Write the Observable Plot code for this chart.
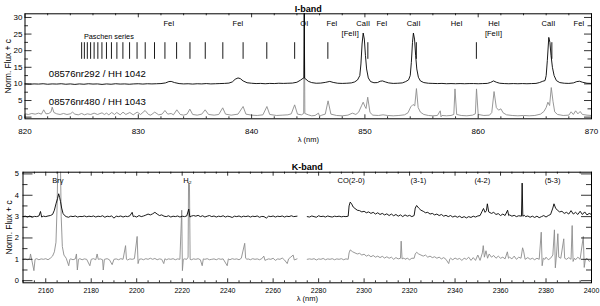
<!DOCTYPE html>
<html><head><meta charset="utf-8">
<script src="https://cdn.jsdelivr.net/npm/d3@7"></script>
<script src="https://cdn.jsdelivr.net/npm/@observablehq/plot@0.6"></script>
<style>
body{margin:0;padding:0;background:#fff;}
#chart{width:600px;height:306px;overflow:hidden;}
#chart svg{display:block;}
</style></head><body><div id="chart"></div>
<script>
// ---------------- I-band data (wavelength nm, normalised flux + c) ----------------
const iFluxHH1042 = [
[820.0,10.0],[820.4,9.9],[820.8,10.0],[821.2,9.95],[821.6,10.05],[822.0,9.9],[822.4,10.0],[822.8,9.95],[823.2,10.05],[823.6,9.9],[824.0,10.0],[824.4,9.85],[824.8,10.0],[825.2,9.9],[825.6,10.05],[826.0,9.95],[826.4,10.0],[826.8,9.85],[827.2,10.0],[827.6,9.9],[828.0,10.05],[828.4,9.95],[828.8,10.0],[829.2,9.9],[829.6,10.0],[830.0,10.05],[830.4,9.95],[830.8,10.05],[831.2,10.0],[831.6,10.05],[832.0,10.1],[832.4,10.3],[832.7,10.7],[832.9,10.75],[833.2,10.4],[833.6,10.1],[834.0,10.0],[834.4,10.05],[834.8,9.95],[835.2,10.05],[835.6,10.0],[836.0,10.1],[836.4,10.0],[836.8,10.05],[837.2,10.1],[837.6,10.15],[838.0,10.25],[838.3,10.6],[838.55,11.4],[838.8,11.8],[839.0,11.6],[839.25,10.9],[839.6,10.35],[840.0,10.2],[840.4,10.1],[840.8,10.15],[841.2,10.05],[841.6,10.15],[842.0,10.1],[842.4,10.2],[842.8,10.15],[843.2,10.2],[843.6,10.25],[844.0,10.5],[844.3,11.1],[844.55,11.7],[844.62,11.8],[844.65,31.8],[844.68,11.7],[844.8,11.4],[845.0,10.8],[845.3,10.4],[845.7,10.2],[846.1,10.25],[846.5,10.45],[846.9,10.75],[847.2,10.45],[847.6,10.2],[848.0,10.15],[848.4,10.2],[848.8,10.3],[849.1,10.6],[849.35,11.2],[849.55,12.5],[849.65,16],[849.75,22],[849.85,25.3],[849.95,23.5],[850.05,18.5],[850.15,14.5],[850.3,11.8],[850.5,10.7],[850.8,10.35],[851.1,10.4],[851.35,10.8],[851.55,10.9],[851.8,10.6],[852.1,10.3],[852.5,10.15],[852.9,10.2],[853.3,10.3],[853.6,10.7],[853.85,11.2],[854.0,12.5],[854.1,16.5],[854.2,22.5],[854.28,25.3],[854.38,23.5],[854.48,18.5],[854.58,14.5],[854.72,12],[854.9,10.9],[855.2,10.4],[855.6,10.2],[856.0,10.15],[856.4,10.1],[856.8,10.15],[857.2,10.05],[857.6,10.1],[858.0,10.05],[858.4,10.1],[858.8,10.05],[859.2,10.1],[859.6,10.1],[860.0,10.05],[860.4,10.1],[860.8,10.15],[861.1,10.45],[861.35,10.9],[861.6,10.5],[861.9,10.2],[862.3,10.1],[862.7,10.05],[863.1,10.1],[863.5,10.05],[863.9,10.1],[864.3,10.05],[864.7,10.1],[865.1,10.15],[865.4,10.4],[865.7,10.8],[865.9,11.0],[866.0,12.5],[866.1,17],[866.23,24.0],[866.33,22.5],[866.43,18.5],[866.55,15],[866.7,12.5],[866.9,11],[867.2,10.4],[867.6,10.2],[868.0,10.15],[868.4,10.3],[868.7,10.7],[868.95,10.8],[869.2,10.5],[869.6,10.2],[870.0,10.15]
];
const iFluxHH1043 = [
[820.0,1.0],[820.3,0.8],[820.6,1.1],[820.9,0.9],[821.2,1.2],[821.45,0.9],[821.65,2.2],[821.85,1.0],[822.1,1.1],[822.3,1.6],[822.4,3.0],[822.55,1.4],[822.8,1.0],[823.1,0.8],[823.4,1.1],[823.7,0.8],[824.0,1.0],[824.2,1.5],[824.4,0.9],[824.7,0.7],[825.0,1.1],[825.25,0.7],[825.5,1.0],[825.8,0.8],[826.1,1.2],[826.4,0.8],[826.8,1.3],[827.0,0.8],[827.2,1.2],[827.4,0.7],[827.65,1.4],[827.9,0.8],[828.1,1.4],[828.4,0.7],[828.65,1.5],[828.9,0.8],[829.25,1.4],[829.55,0.7],[829.9,1.5],[830.2,0.8],[830.6,2.0],[830.9,0.8],[831.1,0.6],[831.45,1.5],[831.8,0.7],[832.1,0.9],[832.35,2.0],[832.6,0.9],[832.9,1.1],[833.1,0.7],[833.4,2.2],[833.7,0.8],[834.0,0.6],[834.3,0.9],[834.55,2.4],[834.8,0.8],[835.2,0.6],[835.6,0.9],[835.9,2.2],[836.2,0.8],[836.7,0.6],[837.1,0.8],[837.45,2.8],[837.7,0.9],[838.2,0.6],[838.8,0.9],[839.25,3.2],[839.5,0.9],[840.0,0.6],[840.5,0.5],[841.0,0.7],[841.35,3.2],[841.6,0.8],[842.2,0.5],[842.7,0.6],[843.2,0.7],[843.5,1.0],[843.8,3.7],[844.05,0.9],[844.4,0.7],[844.6,1.1],[844.65,31.8],[844.7,1.1],[845.0,0.7],[845.3,0.4],[845.6,0.5],[845.9,1.2],[846.0,0.3],[846.2,0.6],[846.5,0.9],[846.75,4.9],[847.0,0.9],[847.5,0.5],[848.0,0.4],[848.5,0.6],[848.9,1.2],[849.2,0.8],[849.45,1.5],[849.7,3.4],[849.85,4.5],[850.0,3.2],[850.1,2.6],[850.25,6.0],[850.45,1.4],[850.7,0.6],[851.2,0.5],[851.6,0.7],[852.0,0.5],[852.5,0.4],[853.0,0.5],[853.5,0.7],[853.8,1.3],[854.05,3.1],[854.25,3.8],[854.4,3.4],[854.55,8.6],[854.7,2.9],[854.9,1.5],[855.2,0.8],[855.6,0.5],[856.0,0.4],[856.4,0.5],[856.65,1.9],[856.72,0.1],[856.8,0.5],[857.2,0.4],[857.6,0.5],[857.85,0.8],[857.95,8.5],[858.1,0.8],[858.5,0.5],[859.0,0.4],[859.5,0.6],[859.75,1.0],[859.85,8.5],[860.0,0.8],[860.5,0.5],[861.0,0.6],[861.2,1.4],[861.4,7.7],[861.6,2.9],[861.8,2.1],[862.0,2.5],[862.2,1.3],[862.5,0.7],[863.0,0.5],[863.5,0.4],[864.0,0.5],[864.5,0.4],[865.0,0.5],[865.5,0.9],[865.8,1.7],[866.0,2.9],[866.15,4.5],[866.3,3.5],[866.45,8.9],[866.6,4.8],[866.75,1.6],[867.0,0.8],[867.5,0.5],[868.0,0.6],[868.2,1.6],[868.4,0.8],[868.6,1.9],[868.8,1.0],[869.0,1.7],[869.2,0.8],[869.6,0.6],[870.0,0.5]
];
const paschenSeries = [866.50,859.84,854.54,850.26,846.73,843.80,841.34,839.25,837.46,835.91,834.56,833.38,832.35,831.43,830.61,829.89,829.23,828.64,828.11,827.63,827.19,826.79,826.43,826.10,825.79,825.50,825.24,825.00];
const paschenTickTop = 22.4, paschenTickBottom = 17.4;
const iLineNames = ["FeI","FeI","OI","FeI","CaII","FeI","CaII","HeI","HeI","CaII","FeI"];
const iLineWaves = [832.7,838.8,844.65,847.1,849.85,851.5,854.3,858.1,861.4,866.2,868.9];
const iLineLevel = 28.3;
const iLine2Names = ["[FeII]","[FeII]"];
const iLine2Waves = [848.7,861.35];
const iLine2Level = 25.0;
const iSeriesNames = ["08576nr292 / HH 1042","08576nr480 / HH 1043"];
const iSeriesLevels = [12.9,4.45];
const iSeriesStart = 822.1;
const iTicksX = [820,830,840,850,860,870];
const iTicksY = [0,5,10,15,20,25,30];

// ---------------- K-band data ----------------
const kFluxHH1042a = [
[2150,3.0],[2151,3.02],[2152,2.98],[2153,3.03],[2154,2.97],[2155,3.01],[2156,3.0],[2157,3.03],[2157.7,3.24],[2158.2,2.98],[2159,3.02],[2160,3.0],[2161,3.03],[2162,3.05],[2163,3.1],[2163.8,3.3],[2164.5,3.6],[2165.2,3.85],[2165.7,4.07],[2166.1,3.9],[2166.5,3.7],[2167.0,3.4],[2167.6,3.15],[2168.3,3.05],[2169,3.0],[2170,2.97],[2171,3.02],[2172,3.0],[2173,3.03],[2174,2.98],[2175,3.01],[2176,3.0],[2177,3.03],[2178,2.99],[2179,3.02],[2180,3.0],[2181,3.03],[2182,2.98],[2183,3.02],[2184,3.0],[2185,3.04],[2186,2.97],[2187,3.02],[2188,3.0],[2189,3.03],[2190,2.93],[2191,3.02],[2192,3.0],[2193,3.03],[2194,2.98],[2195,3.02],[2196,3.0],[2197,3.04],[2198,3.2],[2198.5,3.0],[2199,3.02],[2200,2.98],[2201,3.05],[2202,3.0],[2203,3.03],[2204,3.07],[2205,3.12],[2206,3.08],[2207,3.13],[2208,3.2],[2209,3.12],[2210,3.05],[2211,3.08],[2212,3.02],[2213,3.0],[2214,3.04],[2215,2.98],[2216,3.02],[2217,3.0],[2218,3.03],[2219,2.98],[2220,3.02],[2221,3.0],[2222,3.03],[2222.9,3.35],[2223.4,2.98],[2224,3.02],[2225,3.05],[2226,3.02],[2227,3.06],[2228,3.0],[2229,3.04],[2230,2.98],[2231,3.02],[2232,3.05],[2233,3.0],[2234,3.03],[2235,2.98],[2236,3.02],[2237,3.0],[2238,3.04],[2239,2.98],[2240,3.02],[2241,3.0],[2242,2.96],[2243,3.02],[2244,3.0],[2245,3.03],[2246,2.98],[2247,3.02],[2248,3.0],[2249,3.03],[2250,2.98],[2251,3.02],[2252,3.0],[2253,3.03],[2254,2.97],[2255,3.01],[2256,3.0],[2257,2.93],[2258,3.02],[2259,3.0],[2260,3.03],[2261,2.98],[2262,3.02],[2263,3.0],[2264,3.03],[2265,2.98],[2266,3.02],[2267,3.0],[2268,3.04],[2269,3.0],[2270.5,3.02]
];
const kFluxHH1042b = [
[2275,3.0],[2276,2.98],[2277,3.03],[2278,3.0],[2279,2.97],[2280,3.04],[2281,3.0],[2282,3.02],[2283,2.98],[2284,3.03],[2285,3.0],[2286,2.98],[2287,3.02],[2288,3.0],[2289,3.02],[2290,2.99],[2291,3.01],[2292,3.0],[2293,3.02],[2293.4,3.5],[2293.9,3.68],[2294.5,3.6],[2295.2,3.45],[2296,3.38],[2297,3.3],[2298,3.28],[2299,3.22],[2300,3.25],[2301,3.18],[2302,3.22],[2303,3.15],[2304,3.2],[2305,3.12],[2306,3.18],[2307,3.1],[2308,3.15],[2309,3.08],[2310,3.13],[2311,3.05],[2312,3.12],[2313,3.04],[2314,3.1],[2315,3.02],[2316,3.08],[2317,3.0],[2318,3.08],[2319,3.02],[2320,3.06],[2321,3.0],[2322,3.05],[2322.5,3.4],[2323.1,3.52],[2324,3.4],[2325,3.3],[2326,3.25],[2327,3.18],[2328,3.2],[2329,3.12],[2330,3.15],[2331,3.08],[2332,3.12],[2333,3.05],[2334,3.1],[2335,3.02],[2336,3.06],[2337,3.0],[2338,3.05],[2339,2.98],[2340,3.03],[2341,2.97],[2342,3.02],[2343,2.95],[2344,3.0],[2345,2.94],[2346,3.0],[2347,2.96],[2348,3.02],[2349,2.98],[2350,3.03],[2351,3.05],[2351.9,3.25],[2352.5,3.38],[2353.2,3.2],[2353.8,3.28],[2354.2,3.6],[2354.8,3.22],[2356,3.15],[2357,3.2],[2358,3.1],[2359,3.14],[2360,3.05],[2361,3.12],[2362,3.05],[2363.1,3.3],[2363.6,3.05],[2364,3.08],[2365,3.02],[2366,3.06],[2367,3.0],[2368,3.04],[2369.2,3.02],[2369.5,4.57],[2369.8,3.02],[2370.5,3.06],[2371,3.0],[2372,3.03],[2373,2.97],[2374,3.02],[2375,2.96],[2376,3.02],[2377,2.95],[2378,3.0],[2379,3.05],[2380,2.98],[2381,3.05],[2382,3.1],[2383,3.4],[2383.5,3.6],[2384.2,3.4],[2385,3.3],[2386,3.22],[2387,3.25],[2388,3.15],[2389,3.2],[2390,3.12],[2391,3.28],[2392,3.12],[2393,3.2],[2394,3.1],[2395,3.25],[2396,3.1],[2397,3.22],[2398,3.08],[2399,3.15],[2400,3.1]
];
const kFluxHH1043a = [
[2150,1.0],[2151,1.02],[2152,0.98],[2153,1.03],[2153.3,1.25],[2153.8,1.0],[2154.8,0.47],[2155.3,1.0],[2156,1.03],[2157,0.98],[2158,1.02],[2159,1.0],[2160,1.03],[2161,0.98],[2162,1.05],[2163,1.15],[2163.8,1.35],[2164.5,1.8],[2165.0,3.5],[2165.4,6.0],[2166.4,6.0],[2166.8,3.0],[2167.3,1.6],[2168,1.2],[2169,1.05],[2170.1,0.7],[2170.6,1.0],[2171,1.02],[2172,0.98],[2173,1.02],[2173.5,1.25],[2173.9,0.5],[2174.4,1.0],[2175,1.03],[2176,0.98],[2177,1.02],[2178,1.0],[2179.4,0.7],[2180,1.0],[2181,1.03],[2182,0.98],[2182.6,1.25],[2183.1,1.0],[2184,1.02],[2185,0.98],[2185.3,0.5],[2185.8,1.0],[2187,1.03],[2188,0.98],[2189.2,0.75],[2190,1.0],[2191,1.02],[2192,0.98],[2193,1.03],[2194,1.0],[2195.1,1.64],[2195.5,1.0],[2196,0.97],[2197,1.02],[2198,1.0],[2199,1.03],[2200.2,2.07],[2200.6,0.8],[2201.1,1.0],[2202,1.02],[2203,0.98],[2204,1.03],[2205,1.0],[2206,1.05],[2207,1.0],[2208,1.04],[2209,0.98],[2210,1.02],[2211,1.0],[2211.9,0.8],[2212.4,1.03],[2213,0.98],[2214,1.02],[2215,1.0],[2216,1.03],[2217,0.98],[2218,1.02],[2219,1.0],[2219.8,3.3],[2220.1,0.47],[2220.5,1.0],[2221,1.02],[2222,1.0],[2222.6,1.1],[2222.8,4.6],[2223.2,4.5],[2223.5,1.0],[2224,0.98],[2225,1.02],[2226,1.0],[2227,1.03],[2228,0.98],[2228.8,0.7],[2229.3,1.02],[2230,1.0],[2231,1.03],[2232,0.98],[2233,1.0],[2234,1.02],[2235,0.98],[2236,1.03],[2237,1.0],[2238,1.02],[2239.8,0.7],[2240.3,1.02],[2241,0.98],[2242,1.03],[2243,1.0],[2244,1.02],[2245,0.98],[2246,1.05],[2247.5,1.75],[2247.9,1.05],[2248.5,1.0],[2249,1.02],[2250,0.98],[2251,1.03],[2252,1.0],[2253,1.02],[2254,0.98],[2255,1.03],[2255.9,1.15],[2256.4,0.95],[2257,0.98],[2258,1.02],[2259,1.0],[2260,1.05],[2261,0.95],[2262,1.02],[2263,1.0],[2264,1.06],[2265,0.97],[2266.2,0.8],[2266.8,1.02],[2267.5,1.08],[2268.8,1.2],[2269.3,0.97],[2270.5,1.02]
];
const kFluxHH1043b = [
[2275,1.0],[2276,1.02],[2277,1.0],[2278,1.03],[2279,0.97],[2280,1.02],[2281,1.0],[2282,1.04],[2283,0.98],[2284,1.02],[2285,1.0],[2286,1.03],[2287,0.98],[2288,1.02],[2289,1.0],[2290,1.03],[2291,0.98],[2292,1.02],[2293,1.0],[2293.4,1.3],[2293.9,1.44],[2295,1.35],[2296,1.3],[2297,1.25],[2298,1.28],[2299,1.2],[2300,1.24],[2301,1.15],[2302,1.2],[2303,1.12],[2304,1.18],[2305,1.1],[2306,1.15],[2307,1.08],[2308,1.14],[2309,1.06],[2310,1.12],[2311,1.05],[2312,1.1],[2313,1.0],[2314,1.08],[2315,1.02],[2316,1.05],[2316.3,1.85],[2316.7,1.02],[2317.5,1.06],[2318,1.0],[2319,1.05],[2320,0.98],[2321,1.05],[2322,1.05],[2322.5,1.25],[2323.1,1.33],[2324,1.25],[2325,1.2],[2326,1.15],[2327,1.2],[2328,1.1],[2329,1.15],[2330,1.08],[2331,1.12],[2332,1.05],[2333,1.1],[2334,1.02],[2335,1.08],[2336,1.0],[2337.2,0.8],[2337.7,1.02],[2338,1.05],[2339,0.98],[2340,1.06],[2341,1.0],[2342,1.04],[2343,0.95],[2344,1.05],[2345,1.0],[2346,1.1],[2347,0.95],[2348,1.08],[2349,0.95],[2350,1.2],[2351,0.95],[2352,1.3],[2352.4,1.64],[2352.9,1.1],[2353.6,1.4],[2354.3,1.05],[2355,1.25],[2356,1.1],[2357,1.18],[2358,1.05],[2359,1.15],[2360,1.05],[2361,1.1],[2362,1.02],[2363,1.35],[2363.5,1.05],[2364,1.1],[2365,1.02],[2366,1.15],[2367,1.0],[2368,1.1],[2369,1.05],[2369.7,1.54],[2370.2,1.35],[2370.8,1.0],[2372,1.08],[2373,1.0],[2374,1.05],[2375,0.98],[2376,1.05],[2377,1.0],[2377.9,2.27],[2378.3,0.7],[2378.8,1.05],[2379.5,1.0],[2380,1.1],[2381,0.98],[2382,1.05],[2383,1.2],[2383.7,2.38],[2384.1,0.6],[2384.6,1.2],[2385.2,2.2],[2385.6,1.1],[2386.5,1.05],[2387.8,1.96],[2388.2,1.05],[2389,1.0],[2390,1.08],[2391,1.0],[2391.5,2.58],[2391.9,0.9],[2392.5,1.05],[2393,0.98],[2394,1.1],[2395,1.0],[2396.4,2.07],[2396.8,0.62],[2397.3,1.0],[2398,1.05],[2399,0.9],[2400,1.0]
];
const kLineNames = ["Brγ","H₂","CO(2-0)","(3-1)","(4-2)","(5-3)"];
const kLineWaves = [2165.3,2222.3,2294.3,2323.9,2352.0,2382.9];
const kLineLevel = 4.68;
const kTicksX = [2160,2180,2200,2220,2240,2260,2280,2300,2320,2340,2360,2380,2400];
const kTicksY = [0,1,2,3,4,5];

// ---------------- drawing ----------------
const FONT = "'Liberation Sans', Arial, Helvetica, sans-serif";
const GREY = "#8c8c8c";
const fmt = d => String(d);

function boxTicks(o) {
  const fw = o.width - o.ml - o.mr, fh = o.height - o.mt - o.mb;
  const m = [];
  const tx = (arr, len) => {
    m.push(Plot.ruleX(arr, {x: d => d, insetTop: fh - len, stroke: "#000", strokeWidth: 0.8}));
    m.push(Plot.ruleX(arr, {x: d => d, insetBottom: fh - len, stroke: "#000", strokeWidth: 0.8}));
  };
  const ty = (arr, len) => {
    m.push(Plot.ruleY(arr, {y: d => d, insetRight: fw - len, stroke: "#000", strokeWidth: 0.8}));
    m.push(Plot.ruleY(arr, {y: d => d, insetLeft: fw - len, stroke: "#000", strokeWidth: 0.8}));
  };
  tx(o.xMajor, o.xMajLen); tx(o.xMinor, o.xMajLen / 2);
  ty(o.yMajor, o.yMajLen); ty(o.yMinor, o.yMajLen / 2);
  return m;
}

// I-band panel
const iDim = {width: 600, height: 150, mt: 13.3, mb: 31.7, ml: 24.5, mr: 9};
const iMinorX = d3.range(820, 870.01, 2).filter(v => v % 10 !== 0);
const iMinorY = d3.range(2.5, 30, 5);
const iPlot = Plot.plot({
  width: iDim.width, height: iDim.height,
  marginTop: iDim.mt, marginBottom: iDim.mb, marginLeft: iDim.ml, marginRight: iDim.mr,
  style: {fontFamily: FONT, background: "white", color: "black", overflow: "visible"},
  x: {domain: [820, 870]},
  y: {domain: [-0.5, 31.1]},
  marks: [
    Plot.line(iFluxHH1043, {stroke: GREY, strokeWidth: 0.9, clip: true}),
    Plot.line(iFluxHH1042, {stroke: "#000", strokeWidth: 0.9, clip: true}),
    Plot.ruleX(paschenSeries, {x: d => d, y1: paschenTickBottom, y2: paschenTickTop, stroke: "#000", strokeWidth: 0.9}),
    Plot.text(["Paschen series"], {x: [827.4], y: [24.3], text: d => d, fontSize: 7.3}),
    Plot.text(iLineNames, {x: iLineWaves, y: iLineNames.map(() => iLineLevel), text: d => d, fontSize: 7.5}),
    Plot.text(iLine2Names, {x: iLine2Waves, y: iLine2Names.map(() => iLine2Level), text: d => d, fontSize: 7.5}),
    Plot.text(iSeriesNames, {x: iSeriesNames.map(() => iSeriesStart), y: iSeriesLevels, text: d => d, textAnchor: "start", fontSize: 9.6}),
    Plot.frame({stroke: "#000", strokeWidth: 1}),
    ...boxTicks({...iDim, xMajor: iTicksX, xMinor: iMinorX, yMajor: iTicksY, yMinor: iMinorY, xMajLen: 4, yMajLen: 7}),
    Plot.axisX({ticks: iTicksX, tickFormat: fmt, tickSize: 0, tickPadding: 9.5, label: null, fontSize: 8}),
    Plot.axisY({ticks: iTicksY, tickFormat: fmt, tickSize: 0, tickPadding: 2.5, label: null, fontSize: 8}),
    Plot.text(["I-band"], {frameAnchor: "top", dy: -8.3, fontWeight: "bold", fontSize: 9}),
    Plot.text(["λ (nm)"], {frameAnchor: "bottom", dy: 22.7, fontSize: 7.5}),
    Plot.text(["Norm. Flux + c"], {frameAnchor: "left", textAnchor: "middle", dx: -16.5, rotate: -90, fontSize: 8.3})
  ]
});

// K-band panel
const kDim = {width: 600, height: 156, mt: 21.7, mb: 23.7, ml: 22.5, mr: 9};
const kMinorX = d3.range(2150, 2400.01, 5).filter(v => v % 20 !== 0);
const kMinorY = d3.range(0.5, 5, 1);
const kPlot = Plot.plot({
  width: kDim.width, height: kDim.height,
  marginTop: kDim.mt, marginBottom: kDim.mb, marginLeft: kDim.ml, marginRight: kDim.mr,
  style: {fontFamily: FONT, background: "white", color: "black", overflow: "visible"},
  x: {domain: [2150, 2400]},
  y: {domain: [-0.1, 5.08]},
  marks: [
    Plot.line(kFluxHH1043a, {stroke: GREY, strokeWidth: 0.9, clip: true}),
    Plot.line(kFluxHH1043b, {stroke: GREY, strokeWidth: 0.9, clip: true}),
    Plot.line(kFluxHH1042a, {stroke: "#000", strokeWidth: 0.9, clip: true}),
    Plot.line(kFluxHH1042b, {stroke: "#000", strokeWidth: 0.9, clip: true}),
    Plot.text(kLineNames, {x: kLineWaves, y: kLineNames.map(() => kLineLevel), text: d => d, fontSize: 7.5}),
    Plot.frame({stroke: "#000", strokeWidth: 1}),
    ...boxTicks({...kDim, xMajor: kTicksX, xMinor: kMinorX, yMajor: kTicksY, yMinor: kMinorY, xMajLen: 4, yMajLen: 10}),
    Plot.axisX({ticks: kTicksX, tickFormat: fmt, tickSize: 0, tickPadding: 5.5, label: null, fontSize: 7}),
    Plot.axisY({ticks: kTicksY, tickFormat: fmt, tickSize: 0, tickPadding: 4, label: null, fontSize: 7.5}),
    Plot.text(["K-band"], {frameAnchor: "top", dy: -8.5, fontWeight: "bold", fontSize: 9}),
    Plot.text(["λ (nm)"], {frameAnchor: "bottom", dy: 18, fontSize: 7.5}),
    Plot.text(["Norm. Flux + c"], {frameAnchor: "left", textAnchor: "middle", dx: -13.2, rotate: -90, fontSize: 8.3})
  ]
});

const chart = document.getElementById("chart");
chart.appendChild(iPlot);
chart.appendChild(kPlot);
</script></body></html>
